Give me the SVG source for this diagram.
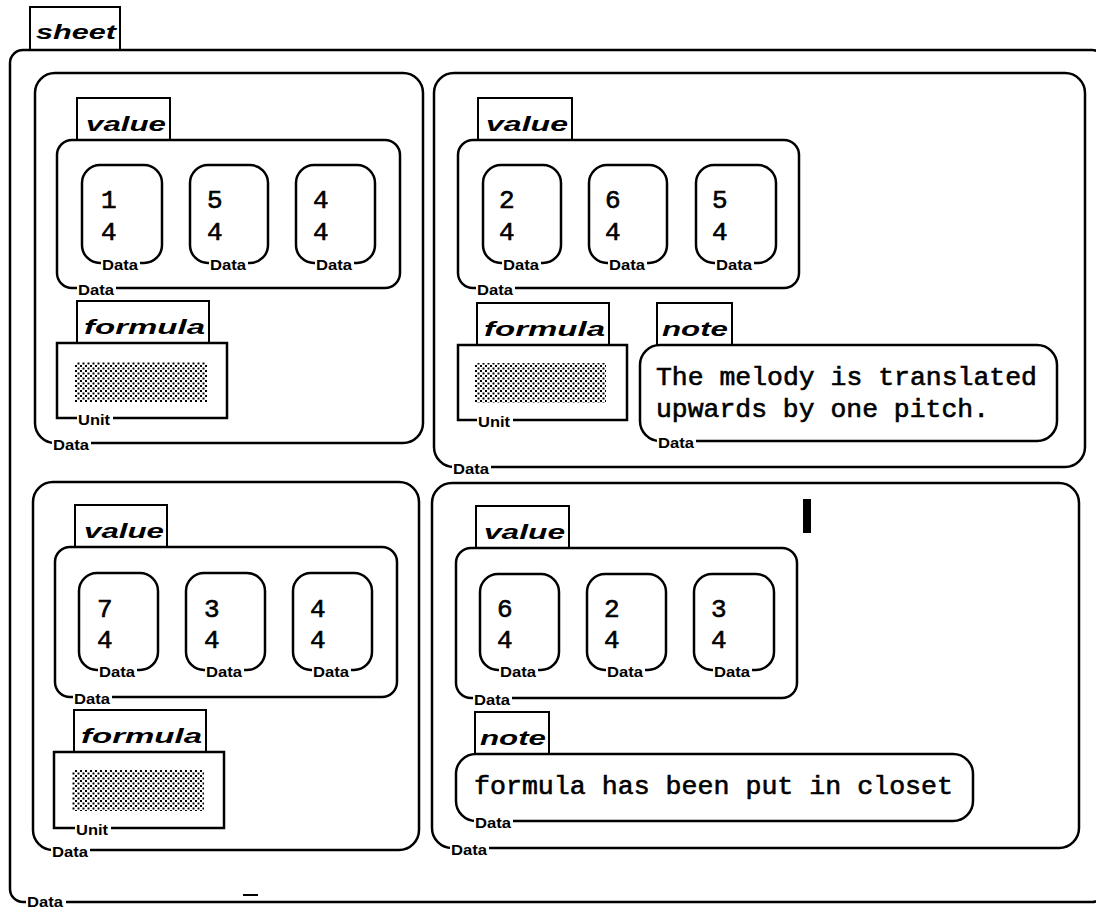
<svg xmlns="http://www.w3.org/2000/svg" width="1096" height="909" viewBox="0 0 1096 909">
<defs>
<pattern id="dots" width="5" height="5" patternUnits="userSpaceOnUse">
<rect x="0" y="0" width="2" height="2" fill="#000"/>
<rect x="2.5" y="2.5" width="2" height="2" fill="#000"/>
</pattern>
<style>
.frame{fill:none;stroke:#000;stroke-width:2.5}
.box{fill:none;stroke:#000;stroke-width:2.5}
.tab{fill:#fff;stroke:#000;stroke-width:2}
.tabt{font-family:"Liberation Sans",Arial,sans-serif;font-weight:bold;font-style:italic;font-size:21px;fill:#000}
.num{font-family:"Liberation Mono","Courier New",monospace;font-size:26px;fill:#000;stroke:#000;stroke-width:0.6}
.lbl{font-family:"Liberation Sans",Arial,sans-serif;font-weight:bold;font-size:14px;fill:#000}
.gap{fill:#fff}
.stip{fill:url(#dots)}
.cursor{fill:#000}
</style>
</defs>
<rect width="1096" height="909" fill="#fff"/>

<g id="sheet">
<rect class="tab" x="30" y="7" width="90" height="43"/>
<text class="tabt" x="36" y="39" textLength="80" lengthAdjust="spacingAndGlyphs">sheet</text>
<rect class="frame" x="10" y="50" width="1095" height="852" rx="13"/>
<rect class="gap" x="26" y="898" width="40" height="9"/>
<text class="lbl" x="27" y="907" textLength="36" lengthAdjust="spacingAndGlyphs">Data</text>
<line x1="243" y1="895" x2="258" y2="895" stroke="#000" stroke-width="2"/>
</g>

<g id="cell-tl">
<rect class="box" x="35" y="73" width="388" height="370" rx="20"/>
<rect class="gap" x="52" y="439" width="39" height="8"/><text class="lbl" x="53" y="450" textLength="36" lengthAdjust="spacingAndGlyphs">Data</text>
<g id="tl-value">
<rect class="tab" x="77" y="98" width="93" height="42"/>
<text class="tabt" x="86" y="131" textLength="80" lengthAdjust="spacingAndGlyphs">value</text>
<rect class="box" x="57" y="140" width="343" height="148" rx="15"/>
<rect class="gap" x="77" y="284" width="39" height="8"/><text class="lbl" x="78" y="295" textLength="36" lengthAdjust="spacingAndGlyphs">Data</text>
<g id="tl-d1"><rect class="box" x="82" y="165" width="80" height="98" rx="18"/><text class="num" x="101" y="208">1</text><text class="num" x="101" y="240">4</text><rect class="gap" x="101" y="259" width="39" height="8"/><text class="lbl" x="102" y="270" textLength="36" lengthAdjust="spacingAndGlyphs">Data</text></g>
<g id="tl-d2"><rect class="box" x="190" y="165" width="78" height="98" rx="18"/><text class="num" x="207" y="208">5</text><text class="num" x="207" y="240">4</text><rect class="gap" x="209" y="259" width="39" height="8"/><text class="lbl" x="210" y="270" textLength="36" lengthAdjust="spacingAndGlyphs">Data</text></g>
<g id="tl-d3"><rect class="box" x="296" y="165" width="79" height="98" rx="18"/><text class="num" x="313" y="208">4</text><text class="num" x="313" y="240">4</text><rect class="gap" x="315" y="259" width="39" height="8"/><text class="lbl" x="316" y="270" textLength="36" lengthAdjust="spacingAndGlyphs">Data</text></g>
</g>
<g id="tl-formula">
<rect class="tab" x="77" y="301" width="132" height="42"/>
<text class="tabt" x="84" y="334" textLength="121" lengthAdjust="spacingAndGlyphs">formula</text>
<rect class="box" x="57" y="343" width="170" height="75"/>
<rect class="stip" x="75" y="362" width="132" height="40"/>
<rect class="gap" x="77" y="414" width="36" height="8"/><text class="lbl" x="78" y="425" textLength="32" lengthAdjust="spacingAndGlyphs">Unit</text>
</g>
</g>

<g id="cell-tr">
<rect class="box" x="434" y="73" width="651" height="394" rx="20"/>
<rect class="gap" x="452" y="463" width="39" height="8"/><text class="lbl" x="453" y="474" textLength="36" lengthAdjust="spacingAndGlyphs">Data</text>
<g id="tr-value">
<rect class="tab" x="478" y="98" width="94" height="42"/>
<text class="tabt" x="486" y="131" textLength="82" lengthAdjust="spacingAndGlyphs">value</text>
<rect class="box" x="458" y="140" width="341" height="148" rx="15"/>
<rect class="gap" x="476" y="284" width="39" height="8"/><text class="lbl" x="477" y="295" textLength="36" lengthAdjust="spacingAndGlyphs">Data</text>
<g id="tr-d1"><rect class="box" x="483" y="165" width="78" height="98" rx="18"/><text class="num" x="499" y="208">2</text><text class="num" x="499" y="240">4</text><rect class="gap" x="502" y="259" width="39" height="8"/><text class="lbl" x="503" y="270" textLength="36" lengthAdjust="spacingAndGlyphs">Data</text></g>
<g id="tr-d2"><rect class="box" x="589" y="165" width="78" height="98" rx="18"/><text class="num" x="605" y="208">6</text><text class="num" x="605" y="240">4</text><rect class="gap" x="608" y="259" width="39" height="8"/><text class="lbl" x="609" y="270" textLength="36" lengthAdjust="spacingAndGlyphs">Data</text></g>
<g id="tr-d3"><rect class="box" x="696" y="165" width="80" height="98" rx="18"/><text class="num" x="712" y="208">5</text><text class="num" x="712" y="240">4</text><rect class="gap" x="715" y="259" width="39" height="8"/><text class="lbl" x="716" y="270" textLength="36" lengthAdjust="spacingAndGlyphs">Data</text></g>
</g>
<g id="tr-formula">
<rect class="tab" x="477" y="303" width="132" height="42"/>
<text class="tabt" x="484" y="336" textLength="121" lengthAdjust="spacingAndGlyphs">formula</text>
<rect class="box" x="458" y="345" width="169" height="75"/>
<rect class="stip" x="475" y="363" width="131" height="40"/>
<rect class="gap" x="477" y="416" width="36" height="8"/><text class="lbl" x="478" y="427" textLength="32" lengthAdjust="spacingAndGlyphs">Unit</text>
</g>
<g id="tr-note">
<rect class="tab" x="657" y="303" width="75" height="42"/>
<text class="tabt" x="662" y="336" textLength="66" lengthAdjust="spacingAndGlyphs">note</text>
<rect class="box" x="640" y="345" width="417" height="96" rx="20"/>
<text class="num" x="656" y="385" textLength="381" lengthAdjust="spacingAndGlyphs">The melody is translated</text>
<text class="num" x="656" y="417" textLength="333" lengthAdjust="spacingAndGlyphs">upwards by one pitch.</text>
<rect class="gap" x="657" y="437" width="39" height="8"/><text class="lbl" x="658" y="448" textLength="36" lengthAdjust="spacingAndGlyphs">Data</text>
</g>
</g>

<g id="cell-bl">
<rect class="box" x="33" y="482" width="386" height="368" rx="20"/>
<rect class="gap" x="51" y="846" width="39" height="8"/><text class="lbl" x="52" y="857" textLength="36" lengthAdjust="spacingAndGlyphs">Data</text>
<g id="bl-value">
<rect class="tab" x="75" y="505" width="92" height="42"/>
<text class="tabt" x="84" y="538" textLength="80" lengthAdjust="spacingAndGlyphs">value</text>
<rect class="box" x="55" y="547" width="342" height="150" rx="15"/>
<rect class="gap" x="73" y="693" width="39" height="8"/><text class="lbl" x="74" y="704" textLength="36" lengthAdjust="spacingAndGlyphs">Data</text>
<g id="bl-d1"><rect class="box" x="79" y="573" width="79" height="97" rx="18"/><text class="num" x="97" y="617">7</text><text class="num" x="97" y="648">4</text><rect class="gap" x="98" y="666" width="39" height="8"/><text class="lbl" x="99" y="677" textLength="36" lengthAdjust="spacingAndGlyphs">Data</text></g>
<g id="bl-d2"><rect class="box" x="186" y="573" width="79" height="97" rx="18"/><text class="num" x="204" y="617">3</text><text class="num" x="204" y="648">4</text><rect class="gap" x="205" y="666" width="39" height="8"/><text class="lbl" x="206" y="677" textLength="36" lengthAdjust="spacingAndGlyphs">Data</text></g>
<g id="bl-d3"><rect class="box" x="293" y="573" width="79" height="97" rx="18"/><text class="num" x="310" y="617">4</text><text class="num" x="310" y="648">4</text><rect class="gap" x="312" y="666" width="39" height="8"/><text class="lbl" x="313" y="677" textLength="36" lengthAdjust="spacingAndGlyphs">Data</text></g>
</g>
<g id="bl-formula">
<rect class="tab" x="74" y="710" width="132" height="42"/>
<text class="tabt" x="81" y="743" textLength="121" lengthAdjust="spacingAndGlyphs">formula</text>
<rect class="box" x="54" y="752" width="170" height="76"/>
<rect class="stip" x="72" y="770" width="132" height="41"/>
<rect class="gap" x="75" y="824" width="36" height="8"/><text class="lbl" x="76" y="835" textLength="32" lengthAdjust="spacingAndGlyphs">Unit</text>
</g>
</g>

<g id="cell-br">
<rect class="box" x="432" y="483" width="647" height="365" rx="20"/>
<rect class="gap" x="450" y="844" width="39" height="8"/><text class="lbl" x="451" y="855" textLength="36" lengthAdjust="spacingAndGlyphs">Data</text>
<rect class="cursor" x="803" y="499" width="8" height="34"/>
<g id="br-value">
<rect class="tab" x="476" y="506" width="93" height="42"/>
<text class="tabt" x="484" y="539" textLength="81" lengthAdjust="spacingAndGlyphs">value</text>
<rect class="box" x="456" y="548" width="341" height="150" rx="15"/>
<rect class="gap" x="473" y="694" width="39" height="8"/><text class="lbl" x="474" y="705" textLength="36" lengthAdjust="spacingAndGlyphs">Data</text>
<g id="br-d1"><rect class="box" x="480" y="574" width="79" height="96" rx="18"/><text class="num" x="497" y="617">6</text><text class="num" x="497" y="648">4</text><rect class="gap" x="499" y="666" width="39" height="8"/><text class="lbl" x="500" y="677" textLength="36" lengthAdjust="spacingAndGlyphs">Data</text></g>
<g id="br-d2"><rect class="box" x="587" y="574" width="79" height="96" rx="18"/><text class="num" x="604" y="617">2</text><text class="num" x="604" y="648">4</text><rect class="gap" x="606" y="666" width="39" height="8"/><text class="lbl" x="607" y="677" textLength="36" lengthAdjust="spacingAndGlyphs">Data</text></g>
<g id="br-d3"><rect class="box" x="694" y="574" width="80" height="96" rx="18"/><text class="num" x="711" y="617">3</text><text class="num" x="711" y="648">4</text><rect class="gap" x="713" y="666" width="39" height="8"/><text class="lbl" x="714" y="677" textLength="36" lengthAdjust="spacingAndGlyphs">Data</text></g>
</g>
<g id="br-note">
<rect class="tab" x="475" y="712" width="74" height="42"/>
<text class="tabt" x="480" y="745" textLength="66" lengthAdjust="spacingAndGlyphs">note</text>
<rect class="box" x="456" y="754" width="517" height="67" rx="20"/>
<text class="num" x="474" y="794" textLength="479" lengthAdjust="spacingAndGlyphs">formula has been put in closet</text>
<rect class="gap" x="474" y="817" width="39" height="8"/><text class="lbl" x="475" y="828" textLength="36" lengthAdjust="spacingAndGlyphs">Data</text>
</g>
</g>

<g id="connectors"/>
</svg>
